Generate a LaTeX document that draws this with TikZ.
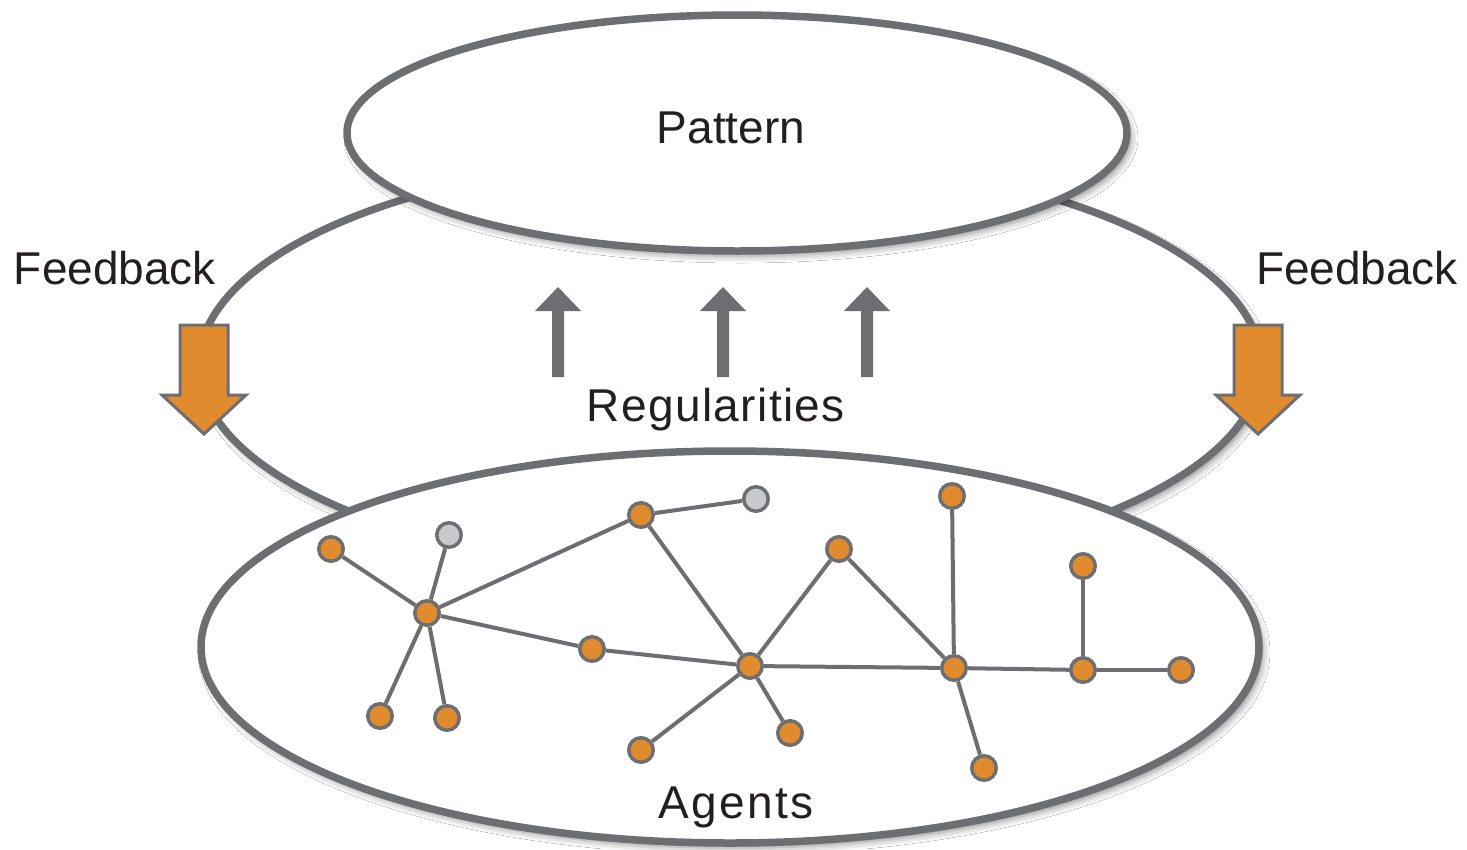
\documentclass[tikz,border=0pt]{standalone}
\usepackage{fontspec}
\setmainfont{Liberation Sans}
\usetikzlibrary{shapes.geometric,shadows.blur}
\definecolor{linegray}{HTML}{6D6E71}
\definecolor{agentorange}{HTML}{E08B2E}
\definecolor{idlegray}{HTML}{C8C9CB}
\definecolor{inktext}{HTML}{231F20}
\begin{document}
\begin{tikzpicture}[x=1pt,y=-1pt,
  oval/.style={draw=linegray, line width=7.5pt, fill=white, ellipse, inner sep=0pt,
    blur shadow={shadow xshift=4pt, shadow yshift=-5pt, shadow blur radius=7pt, shadow opacity=45}},
  agent/.style={circle, draw=linegray, line width=3.5pt, fill=agentorange, minimum size=24.5pt, inner sep=0pt},
  idle/.style={agent, fill=idlegray},
  link/.style={draw=linegray, line width=4pt},
  caption/.style={font=\fontsize{46}{54}\selectfont, text=inktext, anchor=base, inner sep=0pt},
  feedarrow/.style={draw=linegray, line width=3pt, fill=agentorange, line join=miter},
  riser/.style={fill=linegray}
]
% canvas
\fill[white] (0,0) rectangle (1467,849);
\useasboundingbox (0,0) rectangle (1467,849);

% the three levels
\node[oval, minimum width=1062pt, minimum height=420pt] (regular) at (730,365) {};
\node[oval, minimum width=780pt, minimum height=236pt] (pattern) at (737,133) {};
\node[oval, minimum width=1058pt, minimum height=392pt] (agents) at (730,647) {};

% labels
\node[caption] (tpattern) at (731,143) {Pattern};
\node[caption] (tfbl) at (115,284) {Feedback};
\node[caption] (tfbr) at (1357,284) {Feedback};
\node[caption] (treg) at (716,421) {\addfontfeature{LetterSpace=3}Regularities};
\node[caption] (tagents) at (736,818) {\addfontfeature{LetterSpace=5}Agents};

% feedback arrows
\foreach \c in {204,1258}{
  \draw[feedarrow] (\c-24,325) -- (\c+24,325) -- (\c+24,395) -- (\c+42,395)
    -- (\c,434) -- (\c-42,395) -- (\c-24,395) -- cycle;
}

% upward arrows
\foreach \c in {558,723,867}{
  \fill[riser] (\c-6,377) -- (\c+6,377) -- (\c+6,311) -- (\c+23,311)
    -- (\c,287) -- (\c-23,311) -- (\c-6,311) -- cycle;
}

% agent network
\node[agent] (a1) at (331,549) {};
\node[idle]  (g1) at (449,535) {};
\node[agent] (h1) at (427,613) {};
\node[agent] (a3) at (380,716) {};
\node[agent] (a4) at (447,718) {};
\node[agent] (b)  at (641,515) {};
\node[idle]  (g2) at (756,499) {};
\node[agent] (c)  at (592,649) {};
\node[agent] (h2) at (750,666) {};
\node[agent] (d)  at (641,750) {};
\node[agent] (e)  at (790,733) {};
\node[agent] (f)  at (839,549) {};
\node[agent] (g)  at (952,496) {};
\node[agent] (h3) at (954,668) {};
\node[agent] (hh) at (984,768) {};
\node[agent] (j)  at (1083,566) {};
\node[agent] (i)  at (1083,670) {};
\node[agent] (k)  at (1181,670) {};

\foreach \u/\v in {a1/h1, g1/h1, h1/a3, h1/a4, h1/b, h1/c, c/h2, b/g2, b/h2,
                   h2/d, h2/e, h2/f, f/h3, h2/h3, h3/g, h3/hh, h3/i, i/j, i/k}
  \draw[link] (\u) -- (\v);
\end{tikzpicture}
\end{document}
